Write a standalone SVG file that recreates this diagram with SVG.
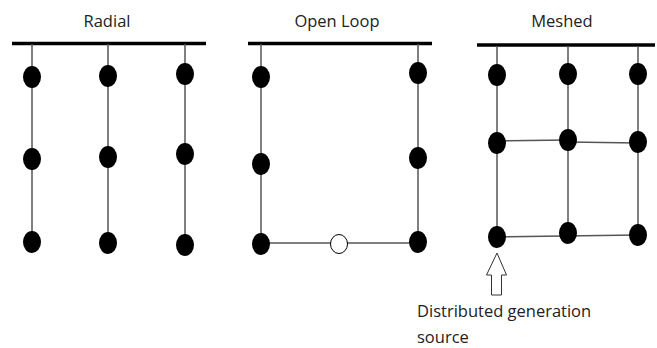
<svg xmlns="http://www.w3.org/2000/svg" width="657" height="348" viewBox="0 0 657 348">
<style>
.t{font-family:"Open Sans","Noto Sans",sans-serif;font-size:16.5px;fill:#222}
.bus{stroke:#000;stroke-width:3.5}
.ln{stroke:#555;stroke-width:1.5;fill:none}
.n{fill:#000}
</style>
<rect width="657" height="348" fill="#fff"/>
<g id="titles">
<text class="t" x="107" y="27" text-anchor="middle">Radial</text>
<text class="t" x="337" y="27" text-anchor="middle">Open Loop</text>
<text class="t" x="562" y="27" text-anchor="middle">Meshed</text>
</g>
<g id="connectors">
<line class="bus" x1="12" y1="43.5" x2="206" y2="43.5"/>
<line class="bus" x1="248" y1="43.5" x2="432" y2="43.5"/>
<line class="bus" x1="477" y1="45" x2="655" y2="45"/>
<line class="ln" x1="32" y1="44" x2="32" y2="242"/>
<line class="ln" x1="108" y1="44" x2="108" y2="243"/>
<line class="ln" x1="185" y1="44" x2="185" y2="245"/>
<line class="ln" x1="261" y1="44" x2="261" y2="243"/>
<line class="ln" x1="418" y1="44" x2="418" y2="242"/>
<line class="ln" x1="261" y1="243" x2="418" y2="243"/>
<line class="ln" x1="497" y1="46" x2="497" y2="237"/>
<line class="ln" x1="568" y1="46" x2="568" y2="233"/>
<line class="ln" x1="638" y1="46" x2="638" y2="235"/>
<line class="ln" x1="497" y1="141" x2="568" y2="140"/>
<line class="ln" x1="568" y1="142" x2="638" y2="143"/>
<line class="ln" x1="497" y1="237" x2="638" y2="235"/>
</g>
<g id="radial-nodes">
<ellipse class="n" cx="32" cy="77" rx="9" ry="11"/>
<ellipse class="n" cx="108" cy="76" rx="9" ry="11"/>
<ellipse class="n" cx="185" cy="74" rx="9" ry="11"/>
<ellipse class="n" cx="32" cy="159" rx="9" ry="11"/>
<ellipse class="n" cx="108" cy="157" rx="9" ry="11"/>
<ellipse class="n" cx="185" cy="154" rx="9" ry="11"/>
<ellipse class="n" cx="32" cy="242" rx="9" ry="11"/>
<ellipse class="n" cx="108" cy="243" rx="9" ry="11"/>
<ellipse class="n" cx="185" cy="245" rx="9" ry="11"/>
</g>
<g id="openloop-nodes">
<ellipse class="n" cx="261" cy="77" rx="9" ry="11"/>
<ellipse class="n" cx="261" cy="164" rx="9" ry="11"/>
<ellipse class="n" cx="261" cy="244" rx="9" ry="11"/>
<ellipse class="n" cx="418" cy="73" rx="9" ry="11"/>
<ellipse class="n" cx="418" cy="158" rx="9" ry="11"/>
<ellipse class="n" cx="418" cy="242" rx="9" ry="11"/>
<ellipse cx="339" cy="244" rx="8.5" ry="9.5" fill="#fff" stroke="#000" stroke-width="1"/>
</g>
<g id="meshed-nodes">
<ellipse class="n" cx="497" cy="75" rx="9" ry="11"/>
<ellipse class="n" cx="568" cy="74" rx="9" ry="11"/>
<ellipse class="n" cx="638" cy="74" rx="9" ry="11"/>
<ellipse class="n" cx="497" cy="143" rx="9" ry="11"/>
<ellipse class="n" cx="568" cy="140" rx="9" ry="11"/>
<ellipse class="n" cx="638" cy="142" rx="9" ry="11"/>
<ellipse class="n" cx="497" cy="237" rx="9" ry="11"/>
<ellipse class="n" cx="568" cy="233" rx="9" ry="11"/>
<ellipse class="n" cx="638" cy="235" rx="9" ry="11"/>
</g>
<g id="dg-source">
<polygon points="497,253 506.5,275 501.5,275 501.5,295 491.5,295 491.5,275 486.5,275" fill="#fff" stroke="#333" stroke-width="1"/>
<text class="t" x="417" y="317">Distributed generation</text>
<text class="t" x="417" y="343">source</text>
</g>
</svg>
